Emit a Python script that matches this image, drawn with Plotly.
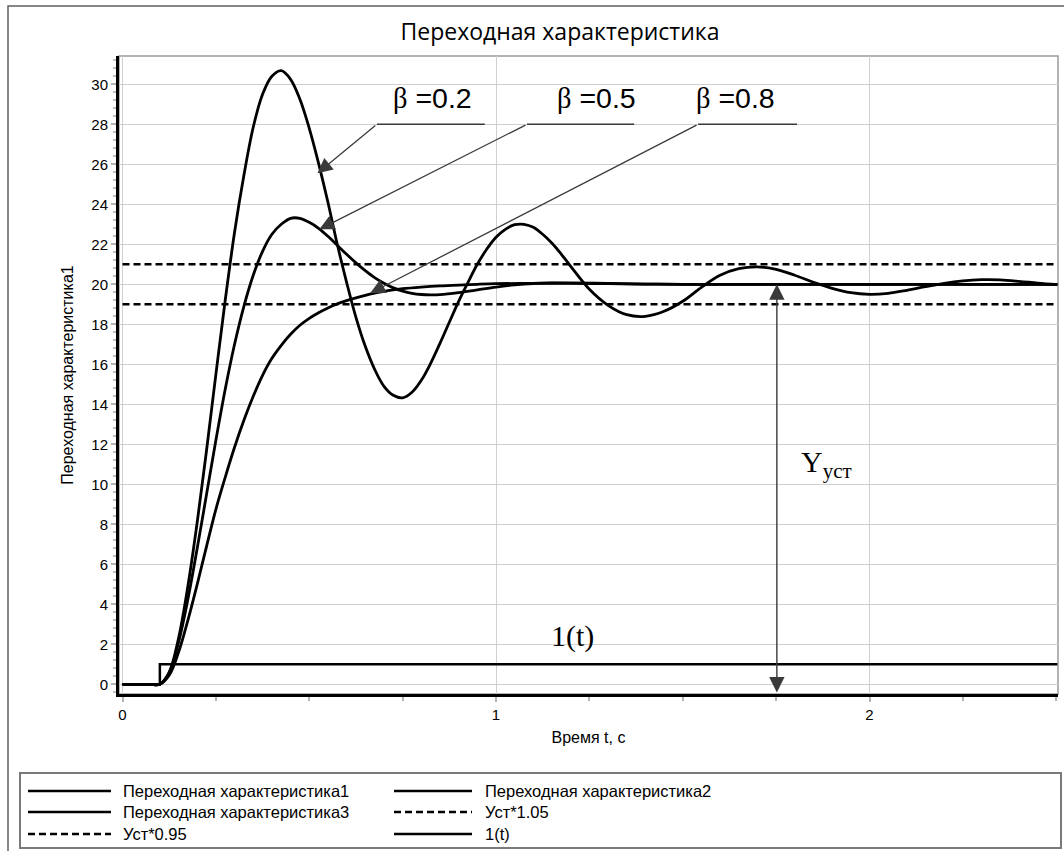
import plotly.graph_objects as go

# ---------------- data ----------------
t1 = [0, 0.05, 0.075, 0.1, 0.125, 0.15, 0.175, 0.2, 0.225, 0.25, 0.275, 0.3, 0.325, 0.35,
      0.375, 0.4, 0.425, 0.45, 0.475, 0.5, 0.525, 0.55, 0.575, 0.6, 0.625, 0.65, 0.675,
      0.7, 0.725, 0.75, 0.775, 0.8, 0.825, 0.85, 0.875, 0.9, 0.925, 0.95, 0.975, 1.0,
      1.025, 1.05, 1.075, 1.1, 1.125, 1.15, 1.175, 1.2, 1.25, 1.3, 1.35, 1.4, 1.45, 1.5,
      1.55, 1.6, 1.65, 1.7, 1.75, 1.8, 1.85, 1.9, 1.95, 2.0, 2.05, 2.1, 2.15, 2.2, 2.25,
      2.3, 2.35, 2.4, 2.45, 2.503]
y1 = [0, 0, 0, 0, 0.6, 2.3, 4.9, 8.1, 11.7, 15.5, 19.2, 22.6, 25.45, 27.85,
      29.5, 30.4, 30.68, 30.25, 29.25, 27.8, 26.05, 24.1, 22.0, 20.1, 18.35, 16.9, 15.75,
      14.9, 14.45, 14.32, 14.6, 15.2, 16.05, 17.05, 18.1, 19.15, 20.1, 21.0, 21.75, 22.35,
      22.75, 22.98, 23.0, 22.85, 22.5, 22.05, 21.5, 20.9, 19.75, 18.95, 18.48, 18.4, 18.65, 19.15,
      19.85, 20.45, 20.78, 20.87, 20.75, 20.45, 20.1, 19.8, 19.58, 19.5, 19.55, 19.7, 19.88, 20.05, 20.17,
      20.23, 20.22, 20.15, 20.06, 19.98]

t2 = [0, 0.05, 0.075, 0.1, 0.125, 0.15, 0.175, 0.2, 0.225, 0.25, 0.275, 0.3, 0.325, 0.35,
      0.375, 0.4, 0.425, 0.45, 0.475, 0.5, 0.525, 0.55, 0.575, 0.6, 0.625, 0.65, 0.675,
      0.7, 0.725, 0.75, 0.775, 0.8, 0.825, 0.85, 0.9, 0.95, 1.0, 1.05, 1.1, 1.15, 1.2,
      1.3, 1.4, 1.5, 2.0, 2.503]
y2 = [0, 0, 0, 0, 0.58, 2.1, 4.25, 6.8, 9.5, 12.2, 14.75, 17.0, 18.9, 20.45,
      21.65, 22.5, 23.0, 23.3, 23.3, 23.1, 22.8, 22.4, 21.95, 21.5, 21.07, 20.68, 20.33,
      20.05, 19.82, 19.66, 19.55, 19.49, 19.47, 19.48, 19.58, 19.72, 19.86, 19.97, 20.04, 20.07, 20.07,
      20.04, 20.01, 20.0, 20.0, 20.0]

t3 = [0, 0.05, 0.075, 0.1, 0.125, 0.15, 0.175, 0.2, 0.225, 0.25, 0.275, 0.3, 0.325, 0.35,
      0.375, 0.4, 0.425, 0.45, 0.475, 0.5, 0.525, 0.55, 0.575, 0.6, 0.625, 0.65, 0.675,
      0.7, 0.725, 0.75, 0.8, 0.85, 0.9, 0.95, 1.0, 1.1, 1.2, 1.3, 1.4, 1.5, 2.0, 2.503]
y3 = [0, 0, 0, 0, 0.45, 1.6, 3.2, 5.0, 6.9, 8.75, 10.35, 11.85, 13.2, 14.4,
      15.45, 16.3, 16.95, 17.5, 17.95, 18.3, 18.58, 18.82, 19.02, 19.18, 19.32, 19.45, 19.56,
      19.65, 19.72, 19.78, 19.86, 19.92, 19.96, 20.0, 20.03, 20.05, 20.05, 20.03, 20.01, 20.0, 20.0, 20.0]

t_band = [0, 2.503]
y_upper = [21, 21]      # Yуст*1.05
y_lower = [19, 19]      # Yуст*0.95

t_step = [0, 0.1, 0.1, 2.503]
y_step = [0, 0, 1, 1]   # 1(t)

series_names = ["Переходная характеристика1", "Переходная характеристика2",
                "Переходная характеристика3", "Уст*1.05", "Уст*0.95", "1(t)"]

x_ticks = [0, 1, 2]
y_ticks = list(range(0, 31, 2))

beta_labels = ["0.2", "0.5", "0.8"]
# ---------------------------------------------------------------------------

W, H = 1064, 851
L, R, T, B = 119, 1058, 56, 694   # plot area in pixels


def px(xp):
    return (xp - L) / (R - L)


def py(yp):
    return (B - yp) / (B - T)


BLACK = "#000000"
DASH = "7px,4px"
SANS = "Liberation Sans, Arial, sans-serif"
SERIF = "Liberation Serif, Times New Roman, serif"
CURVE = dict(color=BLACK, width=2.8, shape="spline", smoothing=1.0)

fig = go.Figure()
fig.add_trace(go.Scatter(x=t1, y=y1, name=series_names[0], mode="lines", line=CURVE))
fig.add_trace(go.Scatter(x=t2, y=y2, name=series_names[1], mode="lines", line=CURVE))
fig.add_trace(go.Scatter(x=t3, y=y3, name=series_names[2], mode="lines", line=CURVE))
fig.add_trace(go.Scatter(x=t_band, y=y_upper, name=series_names[3], mode="lines",
                         line=dict(color=BLACK, width=2.4, dash=DASH)))
fig.add_trace(go.Scatter(x=t_band, y=y_lower, name=series_names[4], mode="lines",
                         line=dict(color=BLACK, width=2.4, dash=DASH)))
fig.add_trace(go.Scatter(x=t_step, y=y_step, name=series_names[5], mode="lines",
                         line=dict(color=BLACK, width=2.5)))

shapes = []
annotations = []

# outer frame of the chart control
shapes.append(dict(type="rect", xref="paper", yref="paper",
                   x0=px(8), x1=px(1075), y0=py(6), y1=py(870),
                   line=dict(color="#606060", width=1.5), layer="below"))
# plot-area frame (grey top/right)
shapes.append(dict(type="rect", xref="paper", yref="paper", x0=0, x1=1, y0=0, y1=1,
                   line=dict(color="#9a9a9a", width=1.5), layer="below"))

# beta annotations: text, underline and leader arrow
beta_text_x = [0.831, 1.270, 1.640]
under_x0 = [0.681, 1.083, 1.541]
under_x1 = [0.970, 1.370, 1.806]
tips = [(0.522, 25.55), (0.527, 22.75), (0.663, 19.55)]
for lab, tx, ux0, ux1, (hx, hy) in zip(beta_labels, beta_text_x, under_x0, under_x1, tips):
    annotations.append(dict(x=tx, y=29.3, xref="x", yref="y", showarrow=False,
                            text='<span style="font-family:Liberation Serif">β</span> =' + lab,
                            font=dict(family=SANS, size=28.5, color=BLACK),
                            xanchor="center", yanchor="middle"))
    shapes.append(dict(type="line", xref="x", yref="y", x0=ux0, x1=ux1, y0=28.0, y1=28.0,
                       line=dict(color="#3a3a3a", width=1.4)))
    annotations.append(dict(x=hx, y=hy, ax=ux0, ay=28.0, xref="x", yref="y",
                            axref="x", ayref="y", text="", showarrow=True,
                            arrowhead=2, arrowsize=2.3, arrowwidth=1.3,
                            arrowcolor="#3a3a3a", standoff=0, startstandoff=0))

# Yуст double arrow
annotations.append(dict(x=1.752, y=20.0, ax=1.752, ay=-0.48, xref="x", yref="y",
                        axref="x", ayref="y", text="", showarrow=True,
                        arrowhead=2, arrowsize=2.2, arrowwidth=1.4, arrowside="end+start",
                        arrowcolor="#3a3a3a", standoff=0, startstandoff=0))
annotations.append(dict(x=1.81, y=11.0, xref="x", yref="y", showarrow=False,
                        text="Y<sub>уст</sub>", font=dict(family=SERIF, size=30, color=BLACK),
                        xanchor="left", yanchor="middle"))
annotations.append(dict(x=1.206, y=2.4, xref="x", yref="y", showarrow=False,
                        text="1(t)", font=dict(family=SERIF, size=30, color=BLACK),
                        xanchor="center", yanchor="middle"))

# manual legend (two columns, three rows)
shapes.append(dict(type="rect", xref="paper", yref="paper",
                   x0=px(20), x1=px(1061), y0=py(848), y1=py(773),
                   line=dict(color="#7a7a7a", width=2)))
rows = [791, 812, 834]
cols = [(28, 111, 121), (394, 472, 483)]
dashes = ["solid", "solid", "solid", DASH, DASH, "solid"]
for i, name in enumerate(series_names):
    r, c = divmod(i, 2)
    x0, x1, xt = cols[c]
    yy = rows[r]
    shapes.append(dict(type="line", xref="paper", yref="paper",
                       x0=px(x0), x1=px(x1), y0=py(yy), y1=py(yy),
                       line=dict(color=BLACK, width=2.6, dash=dashes[i])))
    annotations.append(dict(x=px(xt), y=py(yy), xref="paper", yref="paper",
                            text=name, showarrow=False, xanchor="left", yanchor="middle",
                            font=dict(family=SANS, size=16.5, color=BLACK)))

fig.update_layout(
    width=W, height=H, autosize=False,
    margin=dict(l=L, r=W - R, t=T, b=H - B, pad=0),
    paper_bgcolor="white", plot_bgcolor="white",
    showlegend=False,
    title=dict(text="Переходная характеристика", x=560 / W, xref="container", xanchor="center",
               y=1 - 32 / H, yref="container", yanchor="middle",
               font=dict(family="Open Sans, sans-serif", size=23, color=BLACK)),
    shapes=shapes, annotations=annotations,
    xaxis=dict(range=[-0.0094, 2.5047], tickvals=x_ticks, ticktext=[str(v) for v in x_ticks],
               showline=True, linecolor=BLACK, linewidth=3, zeroline=False,
               showgrid=True, gridcolor="#cfcfcf", gridwidth=1.3,
               ticks="outside", ticklen=5, tickcolor="#b5b5b5", tickwidth=1.5,
               tickfont=dict(family=SANS, size=15, color=BLACK),
               minor=dict(dtick=0.25, tick0=0, ticks="outside", ticklen=4,
                          tickcolor="#b5b5b5", showgrid=False),
               title=dict(text="Время t, с", standoff=10,
                          font=dict(family=SANS, size=16, color=BLACK)),
               automargin=False),
    yaxis=dict(range=[-0.485, 31.415], tickvals=y_ticks, ticktext=[str(v) for v in y_ticks],
               showline=True, linecolor=BLACK, linewidth=3, zeroline=False,
               showgrid=True, gridcolor="#cfcfcf", gridwidth=1.3,
               ticks="outside", ticklen=5, tickcolor="#b5b5b5", tickwidth=1.5,
               tickfont=dict(family=SANS, size=15, color=BLACK),
               minor=dict(dtick=0.4, tick0=0, ticks="outside", ticklen=3,
                          tickcolor="#c0c0c0", showgrid=False),
               title=dict(text="Переходная характеристика1", standoff=14,
                          font=dict(family=SANS, size=16, color=BLACK)),
               automargin=False),
)

fig.write_html("out.html", config={"displayModeBar": False},
               post_script="document.body.style.margin='0';document.body.style.overflow='hidden';")
